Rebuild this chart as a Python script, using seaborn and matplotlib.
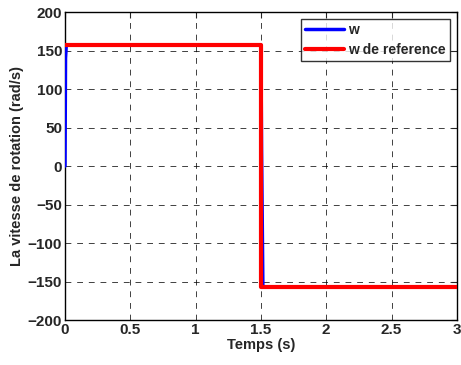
import matplotlib
matplotlib.use("Agg")
import matplotlib.pyplot as plt
import seaborn as sns
import pandas as pd
import numpy as np

# data
t_w = [0.0, 0.004, 0.01, 1.5, 1.505, 1.515, 3.0]
w = [0.0, 140.0, 157.0, 157.0, 20.0, -157.0, -157.0]
t_ref = [0.0, 1.5, 1.5, 3.0]
w_ref = [157.0, 157.0, -157.0, -157.0]
xticks = [0, 0.5, 1, 1.5, 2, 2.5, 3]
yticks = [-200, -150, -100, -50, 0, 50, 100, 150, 200]

sns.set_style("white")
plt.rcParams['font.family'] = ['Liberation Sans', 'DejaVu Sans']
plt.rcParams['font.weight'] = 'bold'

fig = plt.figure(figsize=(4.61, 3.65), dpi=100)
ax = fig.add_axes([0.141, 0.123, 0.850, 0.844])

df_w = pd.DataFrame({"t": t_w, "v": w})
df_r = pd.DataFrame({"t": t_ref, "v": w_ref})
sns.lineplot(data=df_w, x="t", y="v", ax=ax, color="#0000ff", lw=2.5, label="w",
             sort=False, estimator=None, zorder=3)
sns.lineplot(data=df_r, x="t", y="v", ax=ax, color="#ff0000", lw=3, label="w de reference",
             sort=False, estimator=None, zorder=4)

ax.set_xlim(0, 3)
ax.set_ylim(-200, 200)
ax.set_xticks(xticks)
ax.set_xticklabels([f"{x:g}" for x in xticks])
ax.set_yticks(yticks)
ax.grid(True, color="black", linestyle=(0, (6, 6)), lw=0.7, alpha=0.75)
ax.tick_params(direction="in", length=4, width=0.8, labelsize=11, top=True, right=True, pad=2)
for lab in ax.get_xticklabels() + ax.get_yticklabels():
    lab.set_fontweight("bold")
for s in ax.spines.values():
    s.set_color("black")
    s.set_linewidth(1)
ax.set_xlabel("Temps (s)", fontsize=10.5, fontweight="bold", labelpad=1)
ax.set_ylabel("La vitesse de rotation (rad/s)", fontsize=10.5, fontweight="bold", labelpad=3)

leg = ax.legend(loc="upper right", fontsize=10, frameon=True, fancybox=False,
                edgecolor="black", handlelength=2.8, handletextpad=0.3,
                borderpad=0.3, labelspacing=0.4, borderaxespad=0.5)
leg.get_frame().set_linewidth(1)
for txt in leg.get_texts():
    txt.set_fontweight("bold")

fig.savefig("out.png", dpi=100)
